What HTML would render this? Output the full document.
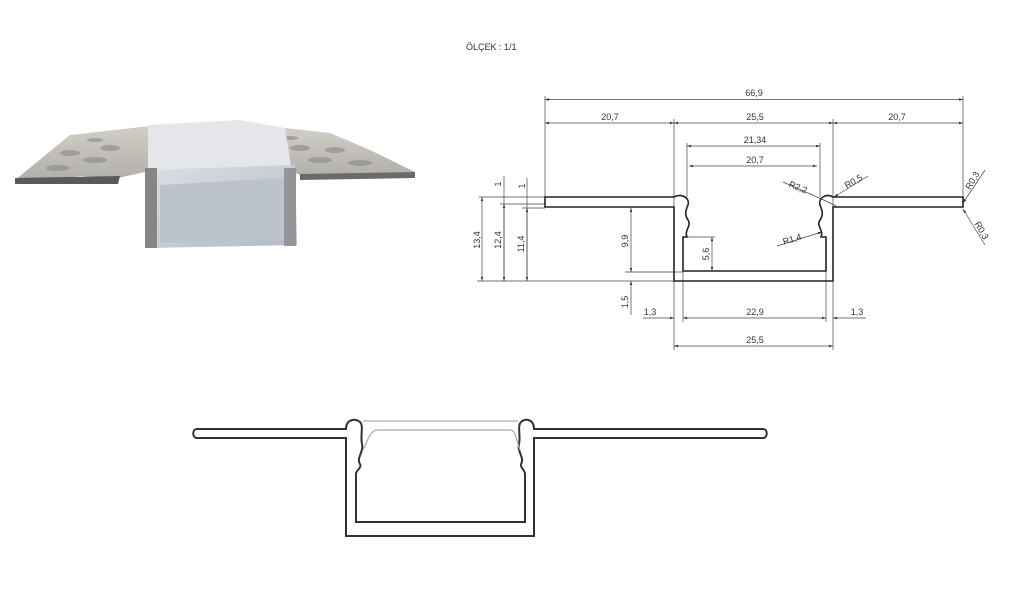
<!DOCTYPE html>
<html><head><meta charset="utf-8"><style>
html,body{margin:0;padding:0;background:#fff;}
svg{display:block}
text{font-family:"Liberation Sans",sans-serif;fill:#333;font-size:9px}
</style></head><body>
<svg width="1024" height="602" viewBox="0 0 1024 602" xmlns="http://www.w3.org/2000/svg">
<defs>
<marker id="a" viewBox="0 0 10 10" refX="10" refY="5" markerWidth="6" markerHeight="6" orient="auto-start-reverse"><path d="M0,2 L10,5 L0,8z" fill="#333"/></marker>
<linearGradient id="g1" x1="0" y1="0" x2="0" y2="1"><stop offset="0" stop-color="#d2cfc8"/><stop offset="1" stop-color="#b0aea8"/></linearGradient>
<linearGradient id="g2" x1="0" y1="0" x2="1" y2="1"><stop offset="0" stop-color="#dde0e5"/><stop offset="1" stop-color="#b3b9c2"/></linearGradient>
</defs>
<rect width="1024" height="602" fill="#fff"/>
<text x="466" y="50" font-size="7">ÖLÇEK : 1/1</text>

<!-- photo -->
<polygon points="15,180 70,135 150,126 160,170 145,172 118,178 80,176 40,182" fill="url(#g1)"/>
<polygon points="285,128 330,133 370,150 415,172 412,178 380,176 330,178 300,175 290,170" fill="url(#g1)"/>
<g fill="#8a8886" opacity="0.6">
<ellipse cx="58" cy="168" rx="12" ry="3"/><ellipse cx="95" cy="160" rx="12" ry="3"/><ellipse cx="70" cy="153" rx="10" ry="3"/><ellipse cx="110" cy="148" rx="10" ry="3"/><ellipse cx="95" cy="140" rx="8" ry="2"/>
<ellipse cx="320" cy="160" rx="12" ry="3"/><ellipse cx="360" cy="163" rx="12" ry="3"/><ellipse cx="300" cy="148" rx="10" ry="3"/><ellipse cx="335" cy="150" rx="10" ry="3"/><ellipse cx="290" cy="138" rx="8" ry="2"/>
</g>
<polygon points="148,125 240,120 285,128 292,172 148,175" fill="#e4e6ea"/>
<polygon points="147,170 295,165 297,245 148,248" fill="url(#g2)"/>
<polygon points="160,185 285,178 287,240 160,243" fill="#bcc3cc"/>
<rect x="145" y="168" width="12" height="80" fill="#858587"/>
<rect x="284" y="168" width="12" height="78" fill="#949598"/>
<polygon points="15,178 120,176 118,184 15,184" fill="#5a5a5a"/>
<polygon points="300,174 415,172 415,178 300,180" fill="#6a6a6a"/>

<!-- dimension drawing -->
<g stroke="#444" stroke-width="0.7" fill="none">
<line x1="545" y1="96" x2="545" y2="205"/><line x1="963" y1="96" x2="963" y2="205"/>
<line x1="674" y1="119" x2="674" y2="350"/><line x1="833" y1="119" x2="833" y2="350"/>
<line x1="687" y1="143" x2="687" y2="197"/><line x1="820" y1="143" x2="820" y2="197"/>
<line x1="545" y1="99.5" x2="963" y2="99.5" marker-start="url(#a)" marker-end="url(#a)"/>
<line x1="545" y1="123" x2="674" y2="123" marker-start="url(#a)" marker-end="url(#a)"/>
<line x1="674" y1="123" x2="833" y2="123" marker-start="url(#a)" marker-end="url(#a)"/>
<line x1="833" y1="123" x2="963" y2="123" marker-start="url(#a)" marker-end="url(#a)"/>
<line x1="687" y1="146" x2="820" y2="146" marker-start="url(#a)" marker-end="url(#a)"/>
<line x1="689" y1="166" x2="817" y2="166" marker-start="url(#a)" marker-end="url(#a)"/>
<line x1="479" y1="197" x2="545" y2="197"/><line x1="500" y1="204" x2="545" y2="204"/><line x1="522" y1="208" x2="545" y2="208"/>
<line x1="477" y1="281" x2="674" y2="281"/><line x1="625" y1="272" x2="683" y2="272"/>
<line x1="482" y1="197" x2="482" y2="281" marker-start="url(#a)" marker-end="url(#a)"/>
<line x1="504" y1="176" x2="504" y2="281" /><line x1="504" y1="204" x2="504" y2="281" marker-start="url(#a)" marker-end="url(#a)"/>
<line x1="527" y1="178" x2="527" y2="281"/><line x1="527" y1="208" x2="527" y2="281" marker-start="url(#a)" marker-end="url(#a)"/>
<line x1="631" y1="208" x2="631" y2="272" marker-start="url(#a)" marker-end="url(#a)"/>
<line x1="631" y1="281" x2="631" y2="315" marker-start="url(#a)"/>
<line x1="712" y1="237" x2="712" y2="271" marker-start="url(#a)" marker-end="url(#a)"/>
<line x1="683" y1="237" x2="715" y2="237"/>
<line x1="683" y1="271" x2="683" y2="322"/><line x1="826" y1="271" x2="826" y2="322"/>
<line x1="643" y1="318" x2="674" y2="318" marker-end="url(#a)"/>
<line x1="683" y1="318" x2="826" y2="318" marker-start="url(#a)" marker-end="url(#a)"/>
<line x1="833" y1="318" x2="866" y2="318" marker-start="url(#a)"/>
<line x1="674" y1="346" x2="833" y2="346" marker-start="url(#a)" marker-end="url(#a)"/>
<line x1="783" y1="182" x2="826" y2="201"/><line x1="826" y1="201" x2="836" y2="206"/>
<line x1="868" y1="176" x2="834" y2="197" marker-end="url(#a)"/>
<line x1="777" y1="246" x2="822" y2="232" marker-end="url(#a)"/>
<line x1="985" y1="170" x2="963" y2="203" marker-end="url(#a)"/>
<line x1="985" y1="245" x2="963" y2="209" marker-end="url(#a)"/>
</g>
<!-- profile -->
<path d="M545,197 L674,197 C682,193 690,198 688,205 C686,210 684,214 688,220 C692,226 684,230 687,237 L683,237 L683,271 L826,271 L826,237 L821,237 C824,230 816,226 820,220 C824,214 822,210 820,205 C818,198 826,193 833,197 L963,197 L963,207 L833,207 L833,281 L674,281 L674,207 L545,207 Z" fill="none" stroke="#222" stroke-width="1.6"/>
<g>
<text x="754" y="96" text-anchor="middle">66,9</text>
<text x="610" y="120" text-anchor="middle">20,7</text>
<text x="755" y="120" text-anchor="middle">25,5</text>
<text x="897" y="120" text-anchor="middle">20,7</text>
<text x="755" y="143" text-anchor="middle">21,34</text>
<text x="755" y="163" text-anchor="middle">20,7</text>
<text x="755" y="315" text-anchor="middle">22,9</text>
<text x="650" y="315" text-anchor="middle">1,3</text>
<text x="857" y="315" text-anchor="middle">1,3</text>
<text x="755" y="343" text-anchor="middle">25,5</text>
<text transform="translate(480,240) rotate(-90)" text-anchor="middle">13,4</text>
<text transform="translate(501,240) rotate(-90)" text-anchor="middle">12,4</text>
<text transform="translate(524,244) rotate(-90)" text-anchor="middle">11,4</text>
<text transform="translate(501,184) rotate(-90)" text-anchor="middle">1</text>
<text transform="translate(525,186) rotate(-90)" text-anchor="middle">1</text>
<text transform="translate(628,241) rotate(-90)" text-anchor="middle">9,9</text>
<text transform="translate(628,302) rotate(-90)" text-anchor="middle">1,5</text>
<text transform="translate(709,254) rotate(-90)" text-anchor="middle">5,6</text>
<text transform="translate(797,190) rotate(22)" text-anchor="middle">R2,2</text>
<text transform="translate(855,184) rotate(-30)" text-anchor="middle">R0,5</text>
<text transform="translate(793,242) rotate(-18)" text-anchor="middle">R1,4</text>
<text transform="translate(975,182) rotate(-60)" text-anchor="middle">R0,3</text>
<text transform="translate(979,232) rotate(60)" text-anchor="middle">R0,3</text>
</g>

<!-- bottom profile -->
<path d="M197,429 L346,429 C346,419 356,418 360,422 C364,426 360,436 362,444 C364,452 356,458 360,464 C362,468 356,470 356,474 L356,522 L525,522 L525,474 C525,470 520,468 521,464 C525,458 517,452 519,444 C521,436 517,426 521,422 C525,418 534,419 534,429 L763,429 C768,429 768,438 763,438 L534,438 L534,536 L346,536 L346,438 L197,438 C192,438 192,429 197,429 Z" fill="none" stroke="#333" stroke-width="2"/>
<path d="M363,421 L518,421" stroke="#aaa" stroke-width="1.2" fill="none"/>
<path d="M363,450 C368,440 370,430 378,430 L510,430 C516,430 516,440 520,450" stroke="#aaa" stroke-width="1.2" fill="none"/>
</svg>
</body></html>
